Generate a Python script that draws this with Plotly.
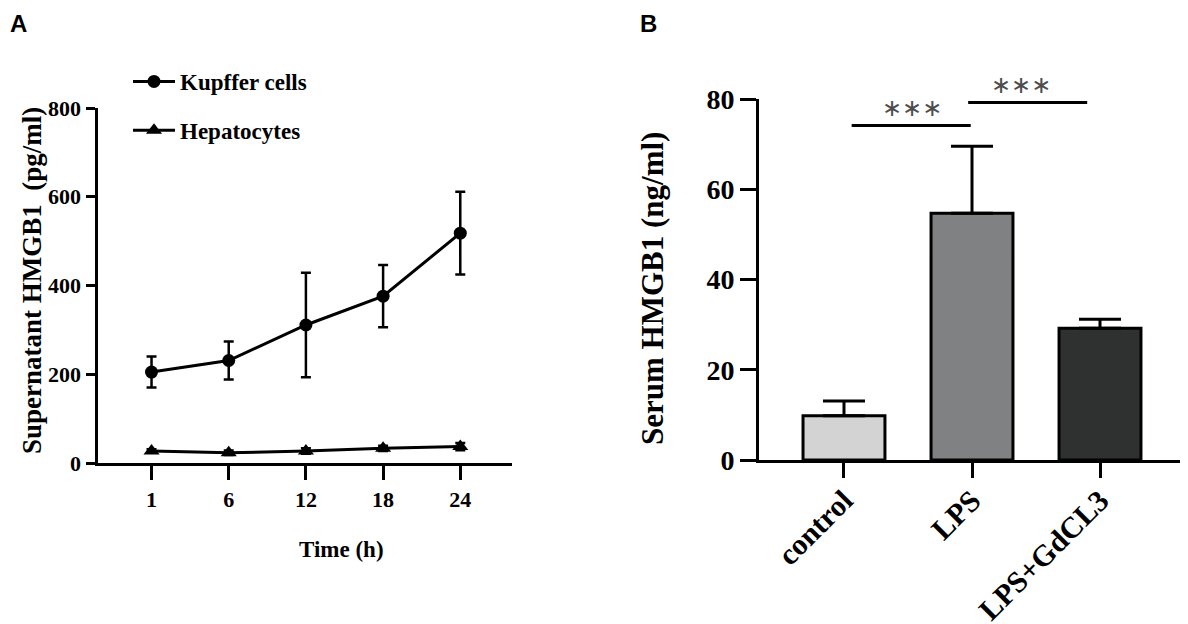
import plotly.graph_objects as go

# ---------- Panel A data ----------
time_labels = ["1", "6", "12", "18", "24"]
kupffer_mean = [205, 231, 311, 376, 518]
kupffer_err = [35, 43, 118, 70, 93]
hepato_mean = [27, 23, 27, 33, 37]
hepato_err = [4, 5, 6, 6, 8]

# ---------- Panel B data ----------
groups = ["control", "LPS", "LPS+GdCL3"]
serum_mean = [9.8, 54.7, 29.2]
serum_err = [3.3, 14.9, 2.0]
bar_colors = ["#d3d3d3", "#808183", "#2f3131"]

# significance brackets (category-index x, value y)
sig_x0 = [0.06, 0.97]
sig_x1 = [0.99, 1.90]
sig_y = [74.2, 79.3]
star_x = [0.53, 1.38]
star_text = ["∗∗∗", "∗∗∗"]

# page body has an 8px margin: convert page pixels to figure fractions
W, H, OFF = 1188, 624, 8
SERIF = "Liberation Serif"
SANS = "Liberation Sans"

def px(x):
    return (x - OFF) / W

def py(y):
    return 1 - (y - OFF) / H

fig = go.Figure()

fig.add_trace(go.Scatter(
    x=time_labels, y=kupffer_mean, name="Kupffer cells",
    mode="lines+markers", legendgroup="k",
    line=dict(color="black", width=3),
    marker=dict(symbol="circle", size=13, color="black"),
    error_y=dict(type="data", array=kupffer_err, color="black", thickness=2.5, width=5),
    xaxis="x", yaxis="y",
))
fig.add_trace(go.Scatter(
    x=time_labels, y=hepato_mean, name="Hepatocytes",
    mode="lines+markers", legendgroup="h",
    line=dict(color="black", width=3),
    marker=dict(symbol="triangle-up", size=14, color="black"),
    error_y=dict(type="data", array=hepato_err, color="black", thickness=2.5, width=5),
    xaxis="x", yaxis="y",
))

fig.add_trace(go.Bar(
    x=groups, y=serum_mean, width=0.64, showlegend=False,
    marker=dict(color=bar_colors, line=dict(color="black", width=3)),
    error_y=dict(type="data", array=serum_err, arrayminus=[0, 0, 0], symmetric=False,
                 color="black", thickness=3, width=21),
    xaxis="x2", yaxis="y2",
))

tickfontA = dict(family=SERIF, size=22, color="black", weight="bold")
tickfontB = dict(family=SERIF, size=28, color="black", weight="bold")
tickfontBx = dict(family=SERIF, size=30, color="black", weight="bold")

fig.update_layout(
    width=W, height=H,
    margin=dict(l=0, r=0, t=0, b=0, pad=0, autoexpand=False),
    paper_bgcolor="white", plot_bgcolor="white",
    xaxis=dict(domain=[px(97.5), px(512)], type="category", range=[-0.70, 4.67],
               showline=True, linecolor="black", linewidth=3,
               ticks="outside", ticklen=14, tickwidth=3, tickcolor="black",
               tickfont=tickfontA, showgrid=False, zeroline=False,
               ticklabelstandoff=1, anchor="y", automargin=False),
    yaxis=dict(domain=[py(463), py(108)], range=[0, 800],
               tickvals=[0, 200, 400, 600, 800],
               showline=True, linecolor="black", linewidth=3,
               ticks="outside", ticklen=9, tickwidth=3, tickcolor="black",
               tickfont=tickfontA, showgrid=False, zeroline=False, anchor="x",
               automargin=False),
    xaxis2=dict(domain=[px(759), px(1196)], type="category", range=[-0.664, 2.75],
                showline=True, linecolor="black", linewidth=3,
                ticks="outside", ticklen=15, tickwidth=3, tickcolor="black",
                tickfont=tickfontBx, tickangle=-45, showgrid=False, zeroline=False,
                ticklabelstandoff=-7, anchor="y2", automargin=False),
    yaxis2=dict(domain=[py(460), py(99.3)], range=[0, 80],
                tickvals=[0, 20, 40, 60, 80],
                showline=True, linecolor="black", linewidth=3,
                ticks="outside", ticklen=16, tickwidth=3, tickcolor="black",
                tickfont=tickfontB, showgrid=False, zeroline=False, anchor="x2",
                automargin=False),
    legend=dict(x=px(128), y=py(60), xanchor="left", yanchor="top",
                font=dict(family=SERIF, size=23, color="black", weight="bold"),
                traceorder="grouped", tracegroupgap=16, itemwidth=42,
                bgcolor="rgba(0,0,0,0)"),
    showlegend=True,
)

for x0, x1, yv in zip(sig_x0, sig_x1, sig_y):
    fig.add_shape(type="line", xref="x2", yref="y2", x0=x0, x1=x1, y0=yv, y1=yv,
                  line=dict(color="black", width=3))

for sx, sy, st in zip(star_x, sig_y, star_text):
    fig.add_annotation(x=sx, y=sy, xref="x2", yref="y2", text=st, showarrow=False,
                       yanchor="middle", yshift=17,
                       font=dict(family="DejaVu Sans", size=24, color="#4d4d4d"))

# axis titles and panel labels
fig.add_annotation(x=px(297), y=py(549), xref="paper", yref="paper", text="Time (h)",
                   showarrow=False, yanchor="middle",
                   font=dict(family=SERIF, size=23, color="black", weight="bold"))
fig.add_annotation(x=px(15), y=py(281), xref="paper", yref="paper",
                   text="Supernatant HMGB1  (pg/ml)", textangle=-90, showarrow=False,
                   yanchor="middle",
                   font=dict(family=SERIF, size=27, color="black", weight="bold"))
fig.add_annotation(x=px(652), y=py(289), xref="paper", yref="paper",
                   text="Serum HMGB1 (ng/ml)", textangle=-90, showarrow=False,
                   yanchor="middle",
                   font=dict(family=SERIF, size=31, color="black", weight="bold"))
fig.add_annotation(x=px(8), y=1.0, xref="paper", yref="paper", text="A",
                   xanchor="left", yanchor="top", showarrow=False,
                   font=dict(family=SANS, size=24, color="black", weight="bold"))
fig.add_annotation(x=px(638), y=1.0, xref="paper", yref="paper", text="B",
                   xanchor="left", yanchor="top", showarrow=False,
                   font=dict(family=SANS, size=24, color="black", weight="bold"))

fig.write_html("out.html")
